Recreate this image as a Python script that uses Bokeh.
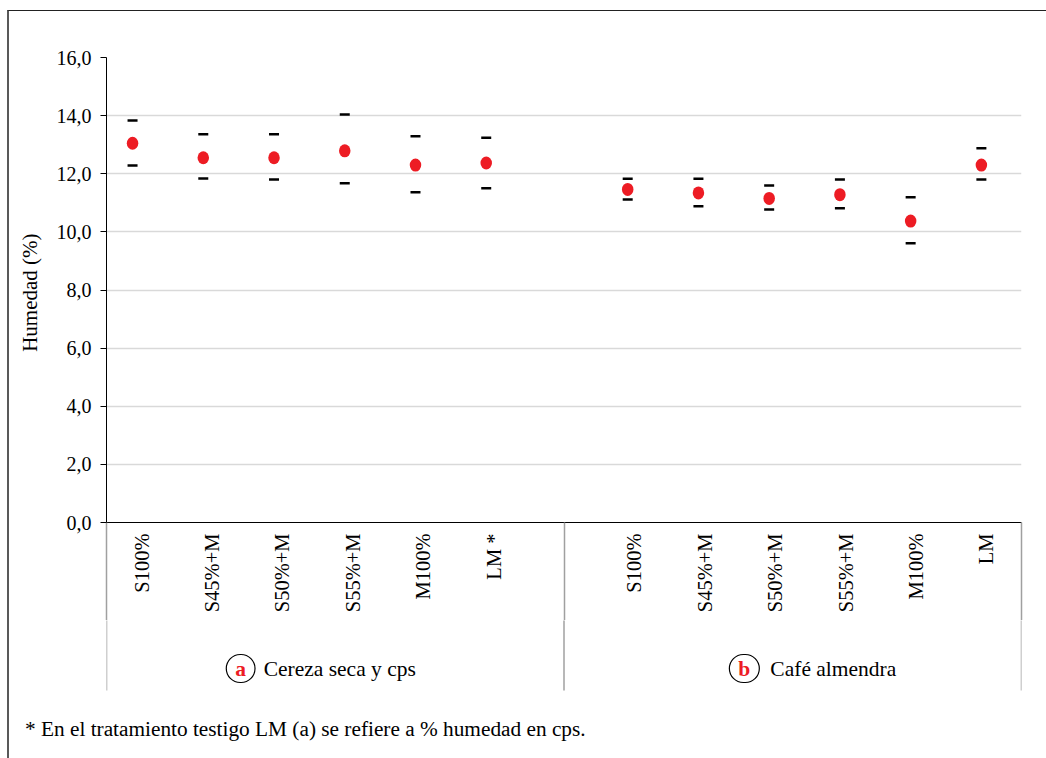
from bokeh.plotting import figure
from bokeh.layouts import column
from bokeh.models import FixedTicker, CustomJSTickFormatter, Label, Range1d, ColumnDataSource, Div
from bokeh.embed import file_html
from bokeh.resources import INLINE
import math

# ---- data ----
treatments_a = ["S100%", "S45%+M", "S50%+M", "S55%+M", "M100%", "LM *"]
treatments_b = ["S100%", "S45%+M", "S50%+M", "S55%+M", "M100%", "LM"]
mean_a = [13.05, 12.55, 12.55, 12.79, 12.30, 12.37]
upper_a = [13.83, 13.36, 13.36, 14.04, 13.29, 13.24]
lower_a = [12.28, 11.84, 11.80, 11.67, 11.36, 11.50]
mean_b = [11.46, 11.34, 11.15, 11.28, 10.37, 12.30]
upper_b = [11.83, 11.83, 11.60, 11.80, 11.19, 12.88]
lower_b = [11.11, 10.88, 10.77, 10.81, 9.61, 11.80]
group_labels = ["a", "b"]
group_names = ["Cereza seca y cps", "Café almendra"]
y_ticks = [0, 2, 4, 6, 8, 10, 12, 14, 16]
footnote = "* En el tratamiento testigo LM (a) se refiere a % humedad en cps."

RED = "#ED1C24"
FONT = "Liberation Serif"
FS = "20px"
FS_CAT = "20.5px"
FS_BIG = "21.5px"
SEP_COLOR = "#a0a0a0"

# ---- layout constants (pixels) ----
W = 1036
FRAME_L, FRAME_R = 97, 24          # frame 106..1021 on the page
H1 = 609                           # main chart canvas (page y 11..620)
H2 = 80                            # strip with group names (page y 620..700)
H3 = 57                            # footnote (page y 700..757)
TOP, BOT1 = 46, 98
SEP_LEN = BOT1 + 3

slots_a = list(range(len(treatments_a)))
slots_b = [len(treatments_a) + 1 + i for i in range(len(treatments_b))]
n_slots = len(treatments_a) + 1 + len(treatments_b)
slots = slots_a + slots_b
labels = treatments_a + treatments_b
pos = [0.37 + 1.005 * s for s in slots]
separators = [0, len(treatments_a) + 0.5, n_slots]

src = ColumnDataSource(dict(
    x=pos,
    mean=mean_a + mean_b,
    upper=upper_a + upper_b,
    lower=lower_a + lower_b,
))

p = figure(
    width=W, height=H1,
    x_range=Range1d(0, n_slots), y_range=Range1d(0, 16),
    output_backend="svg", toolbar_location=None,
    min_border_left=FRAME_L, min_border_right=FRAME_R, min_border_top=TOP, min_border_bottom=BOT1,
)
p.outline_line_color = None
p.background_fill_color = "white"
p.border_fill_color = "white"

xa = p.xaxis[0]
xa.ticker = FixedTicker(ticks=[s + 0.5 for s in slots], minor_ticks=separators)
xa.major_label_overrides = {s + 0.5: lab for s, lab in zip(slots, labels)}
xa.major_label_orientation = math.pi / 2
xa.major_tick_line_color = None
xa.major_tick_out = 0
xa.major_tick_in = 0
xa.major_label_standoff = 11 - SEP_LEN
xa.minor_tick_out = SEP_LEN
xa.minor_tick_in = 0
xa.minor_tick_line_color = SEP_COLOR
xa.minor_tick_line_width = 1.5
xa.axis_line_color = "black"
xa.major_label_text_font = FONT
xa.major_label_text_font_size = FS_CAT
xa.major_label_text_color = "black"

ya = p.yaxis[0]
ya.ticker = FixedTicker(ticks=y_ticks)
ya.formatter = CustomJSTickFormatter(code="return tick.toFixed(1).replace('.', ',');")
ya.major_tick_out = 6
ya.major_tick_in = 0
ya.minor_tick_line_color = None
ya.major_label_standoff = 9
ya.axis_line_color = "black"
ya.major_label_text_font = FONT
ya.major_label_text_font_size = FS
ya.major_label_text_color = "black"
ya.axis_label = "Humedad  (%)"
ya.axis_label_text_font = FONT
ya.axis_label_text_font_size = "21px"
ya.axis_label_text_font_style = "normal"
ya.axis_label_text_color = "black"
ya.axis_label_standoff = 12

p.xgrid.grid_line_color = None
p.ygrid.grid_line_color = "#d9d9d9"
p.ygrid.grid_line_width = 1.5

p.scatter("x", "upper", source=src, marker="dash", size=10, line_color="black", line_width=2.5)
p.scatter("x", "lower", source=src, marker="dash", size=10, line_color="black", line_width=2.5)
p.ellipse(x="x", y="mean", source=src, width=11.5, height=13,
          width_units="screen", height_units="screen", fill_color=RED, line_color=None)

# ---- lower strip (frame aligned with the chart's frame) ----
q = figure(
    width=W, height=H2, x_range=Range1d(0, n_slots), y_range=Range1d(0, H2),
    x_axis_type=None, y_axis_type=None,
    output_backend="svg", toolbar_location=None,
    min_border_left=FRAME_L, min_border_right=FRAME_R, min_border_top=0, min_border_bottom=0,
)
q.outline_line_color = None
q.background_fill_color = "white"
q.border_fill_color = "white"
q.segment(x0=separators, y0=[H2 + 3] * len(separators), x1=separators, y1=[10] * len(separators),
          line_color=SEP_COLOR, line_width=1.5)

group_centres = [len(treatments_a) / 2, len(treatments_a) + 1 + len(treatments_b) / 2]
circle_off = [-77, -66]
text_off = [-54, -40]
for gc, gl, gn, co, to in zip(group_centres, group_labels, group_names, circle_off, text_off):
    q.add_layout(Label(x=gc, y=32, x_units="data", y_units="screen", x_offset=to,
                       text=gn, text_align="left", text_baseline="middle",
                       text_font=FONT, text_font_size=FS_BIG, text_color="black"))
    q.add_layout(Label(x=gc, y=32, x_units="data", y_units="screen", x_offset=co,
                       text=gl, text_align="center", text_baseline="middle",
                       text_font=FONT, text_font_size=FS_BIG, text_font_style="bold",
                       text_color=RED, border_line_color="black", border_line_width=1.2,
                       border_radius=14, padding=dict(left=9, right=9, top=2, bottom=2)))

note = Div(
    text=(f'<div style="font-family: \'{FONT}\'; font-size: 21.3px; color: #000; '
          f'line-height: 24px; padding-top: 12px; padding-left: 11px; white-space: nowrap;">'
          f'{footnote}</div>'),
    width=W, height=H3,
)

layout = column(p, q, note, spacing=0,
                styles={"border-top": "1px solid #222222", "border-left": "2px solid #595959",
                        "margin-top": "10px", "margin-left": "7px"})

open("out.html", "w").write(file_html(layout, INLINE))
